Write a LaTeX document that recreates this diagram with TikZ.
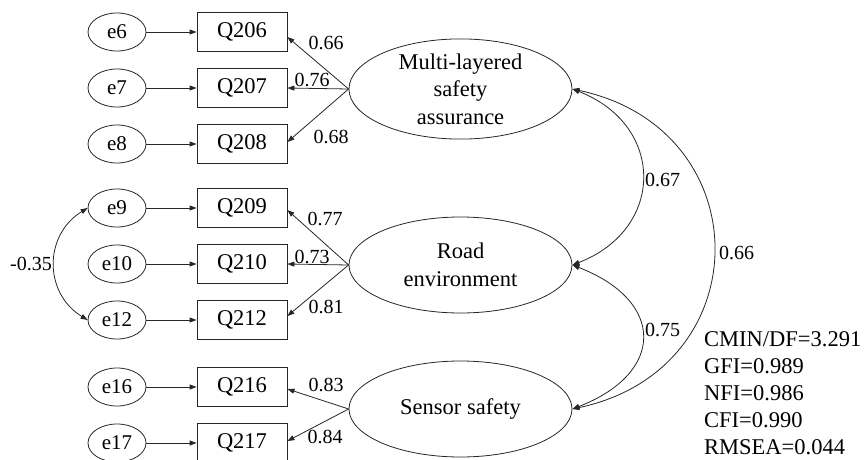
\documentclass[tikz,border=0pt]{standalone}
\usepackage{fontspec}
\setmainfont{Liberation Serif}
\usetikzlibrary{shapes.geometric,arrows.meta}
\tikzset{
  lw/.style={line width=0.8pt, draw=black!85},
  err/.style={ellipse, lw, minimum width=58pt, minimum height=38pt, inner sep=0pt, font=\fontsize{21}{24}\selectfont},
  obs/.style={rectangle, lw, minimum width=90pt, minimum height=39pt, inner sep=0pt, font=\fontsize{22.5}{26}\selectfont},
  lat/.style={ellipse, lw, minimum width=223pt, minimum height=96pt, inner sep=0pt, align=center, font=\fontsize{22.5}{27.5}\selectfont},
  arr/.style={lw, -{Triangle[length=7pt,width=5pt]}},
  darr/.style={lw, {Triangle[length=7pt,width=5pt]}-{Triangle[length=7pt,width=5pt]}},
  lab/.style={inner sep=0pt, font=\fontsize{20}{24}\selectfont},
}
\begin{document}
\begin{tikzpicture}[x=1pt,y=-1pt]
\useasboundingbox (0,0) rectangle (864,460);
\clip (0,0) rectangle (864,460);
% error terms
\node[err] (e6)  at (117,32)  {e6};
\node[err] (e7)  at (117,88)  {e7};
\node[err] (e8)  at (117,144) {e8};
\node[err] (e9)  at (117,208) {e9};
\node[err] (e10) at (117,264) {e10};
\node[err] (e12) at (117,320) {e12};
\node[err] (e16) at (117,387) {e16};
\node[err] (e17) at (117,443) {e17};
% observed
\node[obs] (q206) at (242,32)  {Q206};
\node[obs] (q207) at (242,88)  {Q207};
\node[obs] (q208) at (242,144) {Q208};
\node[obs] (q209) at (242,208) {Q209};
\node[obs] (q210) at (242,264) {Q210};
\node[obs] (q212) at (242,320) {Q212};
\node[obs] (q216) at (242,387) {Q216};
\node[obs] (q217) at (242,443) {Q217};
% latent
\node[lat] (L1) at (460.5,89)  {Multi-layered\\safety\\assurance};
\node[lat] (L2) at (460.5,265) {Road\\environment};
\node[lat] (L3) at (460.5,409) {Sensor safety};
% error arrows
\foreach \e/\q in {e6/q206,e7/q207,e8/q208,e9/q209,e10/q210,e12/q212,e16/q216,e17/q217}
  \draw[arr] (\e.east) -- (\q.west);
% loadings
\draw[arr] (L1.west) -- ([yshift=-5pt]q206.east);
\draw[arr] (L1.west) -- (q207.east);
\draw[arr] (L1.west) -- ([yshift=2pt]q208.east);
\draw[arr] (L2.west) -- ([yshift=-2pt]q209.east);
\draw[arr] (L2.west) -- (q210.east);
\draw[arr] (L2.west) -- ([yshift=4pt]q212.east);
\draw[arr] (L3.west) -- ([yshift=-2pt]q216.east);
\draw[arr] (L3.west) -- ([yshift=2pt]q217.east);
% loading labels
\node[lab] (l1) at (326,43)  {0.66};
\node[lab] (l2) at (312,80)  {0.76};
\node[lab] (l3) at (331,137) {0.68};
\node[lab] (l4) at (325,219) {0.77};
\node[lab] (l5) at (312,257) {0.73};
\node[lab] (l6) at (326,307) {0.81};
\node[lab] (l7) at (326,385) {0.83};
\node[lab] (l8) at (325,437) {0.84};
% error covariance
\draw[darr] (e9.west) .. controls +(-44,27) and +(-44,-27) .. (e12.west);
\node[lab] (c1) at (31,264) {-0.35};
% latent covariances
\draw[darr] (L1.east) .. controls +(93,36) and +(93,-36) .. (L2.east);
\draw[darr] (L2.east) .. controls +(93,36) and +(93,-36) .. (L3.east);
\draw[darr] (L1.east) .. controls +(188,40) and +(188,-40) .. (L3.east);
\node[lab, anchor=west] (c2) at (645,180) {0.67};
\node[lab, anchor=west] (c3) at (645,330) {0.75};
\node[lab, anchor=west] (c4) at (719,253) {0.66};
% fit indices
\node[inner sep=0pt, anchor=west, align=left, font=\fontsize{22.5}{27}\selectfont] (fit) at (704,393)
  {CMIN/DF=3.291\\GFI=0.989\\NFI=0.986\\CFI=0.990\\RMSEA=0.044};
\end{tikzpicture}
\end{document}
